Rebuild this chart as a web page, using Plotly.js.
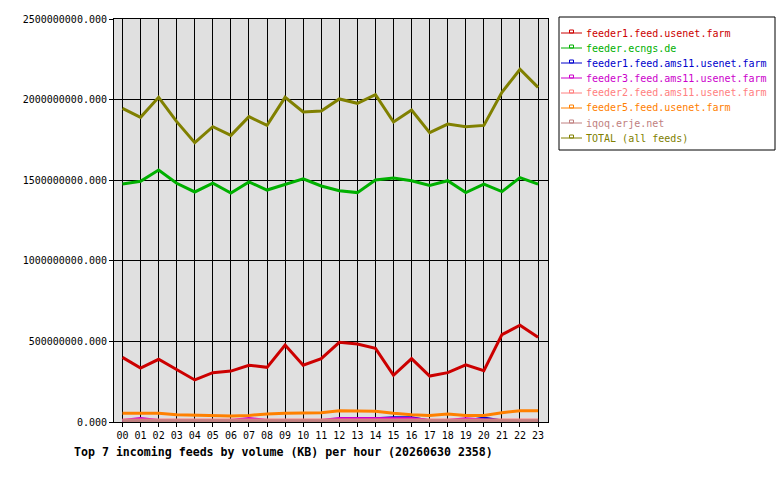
<!DOCTYPE html>
<html>
<head>
<meta charset="utf-8">
<script src="https://cdn.plot.ly/plotly-3.0.1.min.js"></script>
<style>html,body{margin:0;padding:0;background:#fff;}</style>
</head>
<body>
<div id="chart" style="width:780px;height:480px;"></div>
<script>
const hours = ["00","01","02","03","04","05","06","07","08","09","10","11","12","13","14","15","16","17","18","19","20","21","22","23"];
const yTicks = [0, 500000000, 1000000000, 1500000000, 2000000000, 2500000000];

const feedNames = ["feeder1.feed.usenet.farm","feeder.ecngs.de","feeder1.feed.ams11.usenet.farm","feeder3.feed.ams11.usenet.farm","feeder2.feed.ams11.usenet.farm","feeder5.feed.usenet.farm","iqoq.erje.net","TOTAL (all feeds)"];
const feedColors = ["#cc0000","#00b000","#0000cc","#cc00cc","#ff8080","#ff8000","#c08080","#808000"];

const feeder1Usenet = [401e6,335e6,389e6,323e6,261e6,306e6,316e6,352e6,339e6,478e6,352e6,393e6,494e6,484e6,457e6,290e6,393e6,285e6,306e6,355e6,318e6,542e6,600e6,525e6];
const ecngs = [1476e6,1493e6,1563e6,1481e6,1427e6,1481e6,1420e6,1489e6,1439e6,1476e6,1509e6,1464e6,1435e6,1423e6,1501e6,1514e6,1497e6,1468e6,1497e6,1423e6,1476e6,1429e6,1516e6,1476e6];
const feeder1Ams = [5e6,5e6,5e6,5e6,5e6,5e6,5e6,5e6,5e6,5e6,5e6,5e6,5e6,8e6,20e6,26e6,26e6,6e6,5e6,5e6,25e6,6e6,5e6,5e6];
const feeder3Ams = [10e6,22e6,10e6,10e6,10e6,10e6,10e6,22e6,10e6,10e6,10e6,10e6,22e6,22e6,22e6,18e6,22e6,10e6,10e6,20e6,12e6,10e6,10e6,10e6];
const feeder2Ams = [13e6,13e6,13e6,13e6,13e6,13e6,13e6,13e6,13e6,13e6,13e6,13e6,13e6,13e6,13e6,13e6,13e6,13e6,13e6,13e6,13e6,13e6,13e6,13e6];
const feeder5Usenet = [54e6,54e6,54e6,45e6,41e6,37e6,37e6,41e6,50e6,54e6,54e6,58e6,70e6,66e6,66e6,54e6,45e6,41e6,50e6,41e6,41e6,58e6,70e6,70e6];
const iqoq = [7e6,7e6,7e6,7e6,7e6,7e6,7e6,7e6,7e6,7e6,7e6,7e6,7e6,7e6,7e6,7e6,7e6,7e6,7e6,7e6,7e6,7e6,7e6,7e6];
const total = [1946e6,1890e6,2014e6,1863e6,1733e6,1832e6,1778e6,1894e6,1840e6,2014e6,1923e6,1929e6,2004e6,1977e6,2030e6,1861e6,1935e6,1795e6,1848e6,1832e6,1840e6,2045e6,2188e6,2076e6];

const series = [feeder1Usenet, ecngs, feeder1Ams, feeder3Ams, feeder2Ams, feeder5Usenet, iqoq, total];

const traces = series.map((vals, i) => ({
  type: 'scatter', mode: 'lines', x: hours, y: vals, name: feedNames[i],
  line: {color: feedColors[i], width: 3},
  showlegend: false, hoverinfo: 'skip'
}));

// Legend built by hand (pixel -> paper conversion)
const L = 114, R = 548, T = 19, B = 422;
const px = v => (v - L) / (R - L);
const py = v => (B - v) / (B - T);
const shapes = [];
const annotations = [];
shapes.push({type: 'rect', xref: 'paper', yref: 'paper', x0: px(559), x1: px(775), y0: py(17), y1: py(150),
  line: {color: '#000', width: 1}, fillcolor: '#ffffff', layer: 'above'});
feedNames.forEach((nm, i) => {
  const yc = 33 + 15 * i;
  shapes.push({type: 'line', xref: 'paper', yref: 'paper', x0: px(561), x1: px(582), y0: py(yc), y1: py(yc),
    line: {color: feedColors[i], width: 1}, layer: 'above'});
  shapes.push({type: 'rect', xref: 'paper', yref: 'paper', x0: px(569.5), x1: px(573.5), y0: py(yc), y1: py(yc - 3),
    line: {color: feedColors[i], width: 1}, fillcolor: 'rgba(0,0,0,0)', layer: 'above'});
  annotations.push({xref: 'paper', yref: 'paper', x: px(584), y: py(yc), xanchor: 'left', yanchor: 'middle',
    text: nm, showarrow: false, font: {family: "DejaVu Sans Mono, monospace", size: 10, color: feedColors[i]}});
});

const mono = "DejaVu Sans Mono, monospace";
const layout = {
  width: 780, height: 480,
  margin: {l: L, r: 780 - R, t: T, b: 480 - B},
  paper_bgcolor: '#ffffff',
  plot_bgcolor: '#e0e0e0',
  font: {family: mono, size: 10, color: '#000'},
  title: {
    text: '<b>Top 7 incoming feeds by volume (KB) per hour (20260630 2358)</b>',
    font: {family: mono, size: 11.6, color: '#000'},
    xref: 'container', yref: 'container',
    x: 74/780, xanchor: 'left', y: 1 - 452/480, yanchor: 'middle'
  },
  xaxis: {
    type: 'category',
    range: [-0.47, 23.55],
    tickvals: hours, ticktext: hours,
    showgrid: true, gridcolor: '#000', gridwidth: 1,
    showline: true, linecolor: '#000', linewidth: 1, mirror: true,
    ticks: 'outside', ticklen: 4, tickcolor: '#000',
    tickfont: {family: mono, size: 10, color: '#000'},
    zeroline: false, fixedrange: true
  },
  yaxis: {
    range: [0, 2500000000],
    tickvals: yTicks, tickformat: '.3f',
    showgrid: true, gridcolor: '#000', gridwidth: 1,
    showline: true, linecolor: '#000', linewidth: 1, mirror: true,
    ticks: 'outside', ticklen: 4, tickcolor: '#000',
    tickfont: {family: mono, size: 10, color: '#000'},
    zeroline: false, fixedrange: true
  },
  shapes: shapes,
  annotations: annotations,
  showlegend: false
};

Plotly.newPlot('chart', traces, layout, {displayModeBar: false, staticPlot: true});
</script>
</body>
</html>
